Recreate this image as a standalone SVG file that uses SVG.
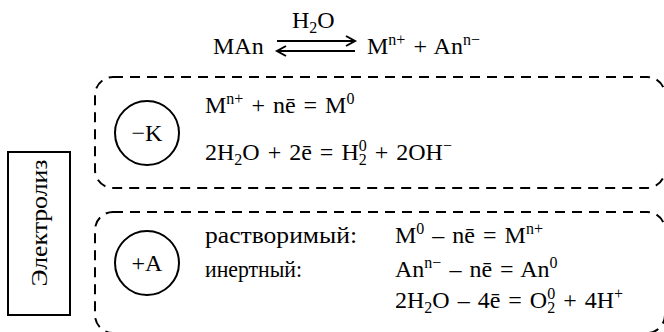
<svg xmlns="http://www.w3.org/2000/svg" width="664" height="332" viewBox="0 0 664 332">
<style>
.t{font-family:"Liberation Serif","Times New Roman",serif;font-size:24px;fill:#000;white-space:pre}
.f{word-spacing:2px}
.s{font-size:16px}
.dash{fill:none;stroke:#000;stroke-width:2;stroke-dasharray:10 7}
.ln{fill:none;stroke:#000;stroke-width:2}
</style>
<rect width="664" height="332" fill="#fff"/>
<g id="equation">
<text class="t" x="213" y="54">MAn</text>
<text class="t" x="292" y="28">H<tspan class="s" dy="5">2</tspan><tspan dy="-5">O</tspan></text>
<text class="t f" x="367" y="54">M<tspan class="s" dy="-9">n+</tspan><tspan dy="9"> + An</tspan><tspan class="s" dy="-9">n−</tspan></text>
</g>
<g id="connectors">
<path class="ln" d="M277 41 H355 M346 36 L355 41 L346 46"/>
<path class="ln" d="M277 51 H355 M286 46 L277 51 L286 56"/>
</g>
<g id="electrolysis">
<rect class="ln" x="8" y="152" width="62" height="163" stroke-width="1.8"/>
<text class="t" transform="translate(47,223) rotate(-90)" text-anchor="middle" font-size="25" textLength="127" lengthAdjust="spacingAndGlyphs">Электролиз</text>
</g>
<g id="cathode">
<rect class="dash" x="95" y="77" width="570" height="111" rx="18"/>
<circle class="ln" cx="147" cy="133" r="32"/>
<text class="t" x="147" y="141" text-anchor="middle">−K</text>
<text class="t f" x="205" y="113">M<tspan class="s" dy="-9">n+</tspan><tspan dy="9"> + nē = M</tspan><tspan class="s" dy="-9">0</tspan></text>
<text class="t f" x="205" y="160">2H<tspan class="s" dy="5">2</tspan><tspan dy="-5">O + 2ē = H</tspan><tspan class="s" dy="5">2</tspan><tspan class="s" dx="-8" dy="-14">0</tspan><tspan dy="9"> + 2OH</tspan><tspan class="s" dy="-9">−</tspan></text>
</g>
<g id="anode">
<rect class="dash" x="95" y="212" width="570" height="121" rx="18"/>
<circle class="ln" cx="147" cy="263" r="32"/>
<text class="t" x="147" y="271" text-anchor="middle">+A</text>
<text class="t" x="205" y="243" font-size="25" textLength="152" lengthAdjust="spacingAndGlyphs">растворимый:</text>
<text class="t" x="205" y="277" font-size="25" textLength="97" lengthAdjust="spacingAndGlyphs">инертный:</text>
<text class="t f" x="395" y="243">M<tspan class="s" dy="-9">0</tspan><tspan dy="9"> – nē = M</tspan><tspan class="s" dy="-9">n+</tspan></text>
<text class="t f" x="395" y="277">An<tspan class="s" dy="-9">n−</tspan><tspan dy="9"> – nē = An</tspan><tspan class="s" dy="-9">0</tspan></text>
<text class="t f" x="395" y="308">2H<tspan class="s" dy="5">2</tspan><tspan dy="-5">O – 4ē = O</tspan><tspan class="s" dy="5">2</tspan><tspan class="s" dx="-8" dy="-14">0</tspan><tspan dy="9"> + 4H</tspan><tspan class="s" dy="-9">+</tspan></text>
</g>
</svg>
